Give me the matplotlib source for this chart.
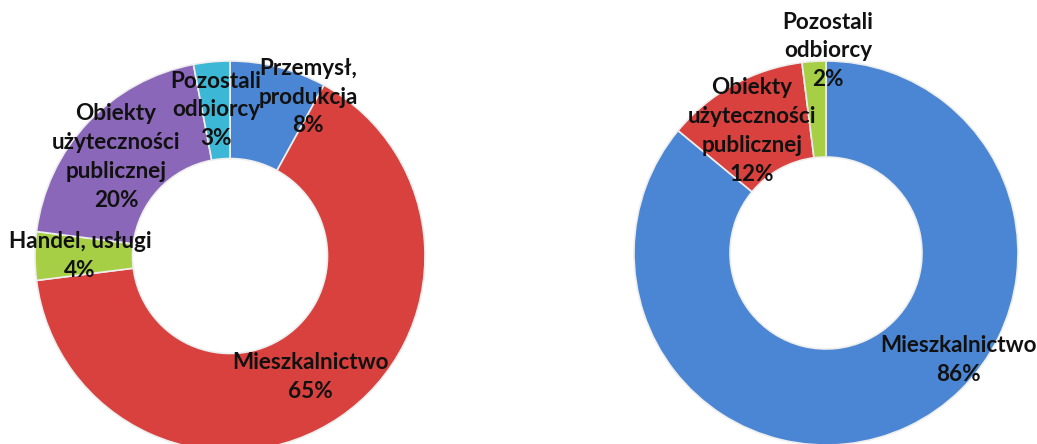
import matplotlib
matplotlib.use("Agg")
import matplotlib.pyplot as plt

# left chart: odbiorcy (clockwise from 12 o'clock)
left_labels = ["Przemysł,\nprodukcja", "Mieszkalnictwo", "Handel, usługi",
               "Obiekty\nużyteczności\npublicznej", "Pozostali\nodbiorcy"]
left_values = [8, 65, 4, 20, 3]
left_colors = ["#4a86d4", "#d8413d", "#a6cf45", "#8a67b8", "#3cb8d6"]

# right chart
right_labels = ["Mieszkalnictwo", "Obiekty\nużyteczności\npublicznej", "Pozostali\nodbiorcy"]
right_values = [86, 12, 2]
right_colors = ["#4a86d4", "#d8413d", "#a6cf45"]

W, H = 1037, 444
fig = plt.figure(figsize=(W / 100, H / 100), dpi=100)
ax = fig.add_axes([0, 0, 1, 1])

wp = dict(edgecolor="#eeeeee", linewidth=1.2)


def donut(values, colors, cx, cy, r):
    ax.pie(values, colors=colors, startangle=90, counterclock=False,
           center=(cx, H - cy), radius=r,
           wedgeprops=dict(wp, width=r * 0.5))


donut(left_values, left_colors, 230, 256, 195)
donut(right_values, right_colors, 826, 253, 192)

# label positions in pixels (x, y from top)
left_pos = [(308, 97), (310, 377), (80, 256), (116, 157), (216, 110)]
right_pos = [(958, 360), (752, 131), (828, 51)]

tkw = dict(ha="center", va="center", fontsize=16.2, fontweight="bold",
           family="Lato", color="#111111", linespacing=1.47)

for lab, v, (x, y) in zip(left_labels, left_values, left_pos):
    ax.text(x, H - y, f"{lab}\n{v}%", **tkw)
for lab, v, (x, y) in zip(right_labels, right_values, right_pos):
    ax.text(x, H - y, f"{lab}\n{v}%", **tkw)

ax.set_xlim(0, W)
ax.set_ylim(0, H)
ax.set_aspect("equal")
ax.axis("off")

fig.savefig("out.png", dpi=100)
